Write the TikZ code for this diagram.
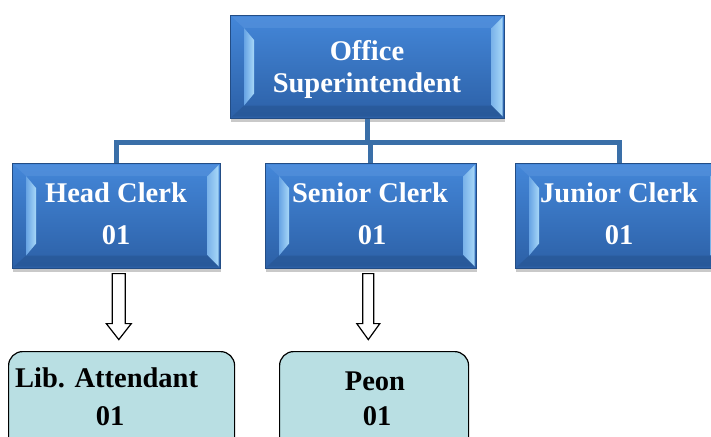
\documentclass[tikz,border=0pt]{standalone}
\usepackage{fontspec}
\setmainfont{Liberation Serif}
\usetikzlibrary{shadows,calc}
\definecolor{boxtop}{HTML}{4487D9}
\definecolor{boxbot}{HTML}{2C60A6}
\definecolor{hilite}{HTML}{A8D8F8}
\definecolor{lnk}{HTML}{3A6FA8}
\definecolor{lowfill}{HTML}{B9DFE3}
\tikzset{
  bluebox/.style={draw=boxbot!80!black, line width=0.6pt, top color=boxtop, bottom color=boxbot, inner sep=0,
    drop shadow={shadow xshift=1pt, shadow yshift=-4pt, opacity=0.3, fill=black!70}},
  lowbox/.style={draw=black, line width=1.2pt, fill=lowfill, rounded corners=14pt, inner sep=0},
  wtxt/.style={font=\fontsize{28.5}{34}\selectfont\bfseries, text=white, inner sep=0, anchor=base},
  btxt/.style={font=\fontsize{28.5}{34}\selectfont\bfseries, text=black, inner sep=0, anchor=base},
  link/.style={draw=lnk, line width=5pt, line join=miter},
  hollowarrow/.style={draw=black, line width=1.2pt, fill=white, line join=miter}
}
\newcommand\bevels[1]{%
  % left bevel
  \path[left color=hilite!35!boxtop, right color=hilite]
    ($(#1.north west)+(14,13)$) -- ($(#1.north west)+(24,25)$) -- ($(#1.south west)+(24,-25)$) -- ($(#1.south west)+(14,-13)$) -- cycle;
  % right bevel
  \path[left color=hilite!55!boxtop, right color=hilite]
    ($(#1.north east)+(-2,2)$) -- ($(#1.north east)+(-13,13)$) -- ($(#1.south east)+(-13,-13)$) -- ($(#1.south east)+(-2,-2)$) -- cycle;
  % top bevel
  \path[fill=boxtop!88!white, opacity=0.5]
    ($(#1.north west)+(2,2)$) -- ($(#1.north east)+(-2,2)$) -- ($(#1.north east)+(-13,13)$) -- ($(#1.north west)+(14,13)$) -- cycle;
  % bottom bevel
  \path[fill=boxbot!85!black, opacity=0.5]
    ($(#1.south west)+(2,-2)$) -- ($(#1.south east)+(-2,-2)$) -- ($(#1.south east)+(-13,-13)$) -- ($(#1.south west)+(14,-13)$) -- cycle;
}
\begin{document}
\begin{tikzpicture}[x=1pt,y=-1pt]
\useasboundingbox (0,0) rectangle (711,436);
% connectors
\coordinate (j) at (367,142);
\node[bluebox, minimum width=208pt, minimum height=105pt, anchor=north west] (hc) at (12,163) {};
\node[bluebox, minimum width=211pt, minimum height=105pt, anchor=north west] (sc) at (265,163) {};
\node[bluebox, minimum width=208pt, minimum height=105pt, anchor=north west] (jc) at (515,163) {};
\node[bluebox, minimum width=274pt, minimum height=103pt, anchor=north west] (os) at (230,15) {};
\draw[link] (os.south) -- (os.south |- j) coordinate (bus);
\draw[link] (hc.north) |- (bus) -| (jc.north);
\draw[link] (sc.north) -- (sc.north |- bus);
\bevels{os}
\bevels{hc}
\bevels{sc}
\bevels{jc}
% texts in blue boxes
\node[wtxt] (os1) at (367,60) {Office};
\node[wtxt] (os2) at (367,92) {Superintendent};
\node[wtxt] (hc1) at (116,202) {Head Clerk};
\node[wtxt] (hc2) at (116,244) {01};
\node[wtxt] (sc1) at (370,202) {Senior Clerk};
\node[wtxt] (sc2) at (372,244) {01};
\node[wtxt] (jc1) at (619,202) {Junior Clerk};
\node[wtxt] (jc2) at (619,244) {01};
% lower boxes
\node[lowbox, minimum width=226pt, minimum height=100pt, anchor=north west] (la) at (8,351) {};
\node[lowbox, minimum width=189pt, minimum height=100pt, anchor=north west] (pe) at (279,351) {};
\node[btxt, anchor=base west] (la1) at (15,387) {Lib. Attendant};
\node[btxt] (la2) at (110,425) {01};
\node[btxt] (pe1) at (375,390) {Peon};
\node[btxt] (pe2) at (377,425) {01};
% hollow block arrows
\draw[hollowarrow] ($(hc.south)+(-4,5)$) -- ++(13,0) -- ++(0,50) -- ++(6,0) -- ++(-12.5,16) -- ++(-12.5,-16) -- ++(6,0) -- cycle;
\draw[hollowarrow] ($(sc.south)+(-8,5)$) -- ++(11,0) -- ++(0,50) -- ++(6,0) -- ++(-11.5,16) -- ++(-11.5,-16) -- ++(6,0) -- cycle;
\end{tikzpicture}
\end{document}
